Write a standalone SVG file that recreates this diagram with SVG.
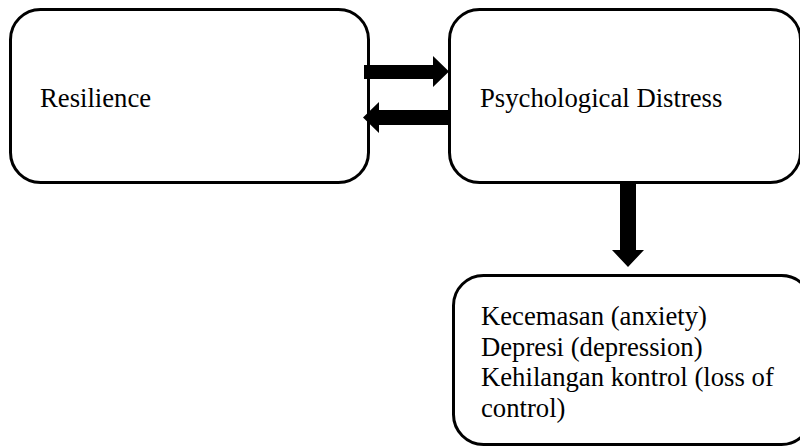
<svg xmlns="http://www.w3.org/2000/svg" width="800" height="447" viewBox="0 0 800 447">
<style>
.box{fill:#fff;stroke:#000;stroke-width:3}
.t{font-family:"Liberation Serif","Times New Roman","DejaVu Serif",serif;font-size:26.7px;fill:#000}
.arr{fill:#000}
</style>
<rect width="800" height="447" fill="#fff"/>
<g id="resilience">
<rect class="box" x="10.5" y="9.5" width="358" height="173" rx="30"/>
<text class="t" x="40" y="107">Resilience</text>
</g>
<g id="distress">
<rect class="box" x="449.5" y="9.5" width="351" height="173" rx="30"/>
<text class="t" x="480" y="107">Psychological Distress</text>
</g>
<g id="symptoms">
<rect class="box" x="453.5" y="275.5" width="358" height="169" rx="30"/>
<text class="t" x="481" y="325">Kecemasan (anxiety)</text>
<text class="t" x="481" y="355.5">Depresi (depression)</text>
<text class="t" x="481" y="386">Kehilangan kontrol (loss of</text>
<text class="t" x="481" y="416.5">control)</text>
</g>
<g id="connectors">
<polygon class="arr" points="364,65 433,65 433,56 449,71.5 433,87 433,79 364,79"/>
<polygon class="arr" points="449,110 379,110 379,102 363,117.5 379,133 379,125 449,125"/>
<polygon class="arr" points="620,183 636,183 636,250 644,250 628,267 612,250 620,250"/>
</g>
</svg>
